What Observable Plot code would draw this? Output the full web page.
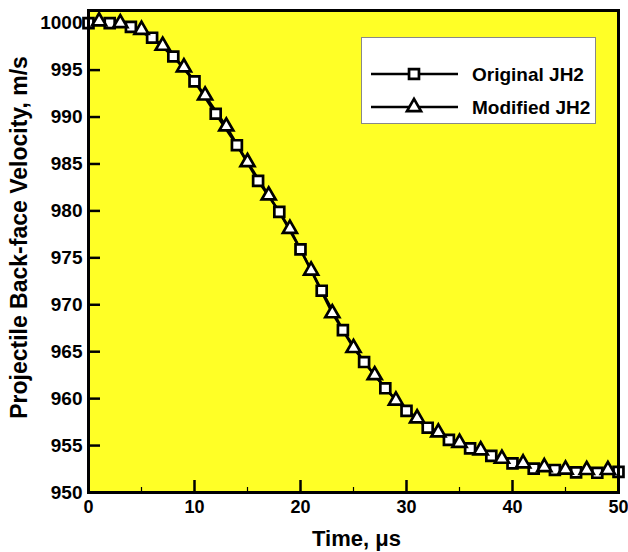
<!DOCTYPE html>
<html>
<head>
<meta charset="utf-8">
<script src="https://cdn.jsdelivr.net/npm/d3@7"></script>
<script src="https://cdn.jsdelivr.net/npm/@observablehq/plot@0.6"></script>
<style>
  html, body { margin: 0; padding: 0; background: white; }
  #wrap { position: relative; width: 628px; height: 552px; }
  #legend { position: absolute; left: 361px; top: 37px; width: 235px; height: 87px;
            background: white; border: 1px solid #888; box-sizing: border-box; }
</style>
</head>
<body>
<div id="wrap"><div id="chart"></div><div id="legend"></div></div>
<script>
// Time (µs) and velocity (m/s)
const originalTime = [0, 2, 4, 6, 8, 10, 12, 14, 16, 18, 20, 22, 24, 26, 28, 30, 32, 34, 36, 38, 40, 42, 44, 46, 48, 50];
const originalJH2 = [1000.0, 1000.0, 999.6, 998.45, 996.45, 993.8, 990.35, 987.0, 983.2, 979.9, 975.9, 971.5, 967.3, 963.9, 961.1, 958.7, 956.9, 955.6, 954.7, 953.9, 953.1, 952.55, 952.4, 952.15, 952.1, 952.2];
const modifiedTime = [1, 3, 5, 7, 9, 11, 13, 15, 17, 19, 21, 23, 25, 27, 29, 31, 33, 35, 37, 39, 41, 43, 45, 47, 49];
const modifiedJH2 = [1000.2, 1000.0, 999.3, 997.6, 995.3, 992.3, 989.0, 985.2, 981.65, 978.1, 973.65, 969.1, 965.4, 962.5, 959.8, 957.9, 956.4, 955.3, 954.5, 953.6, 953.1, 952.7, 952.45, 952.4, 952.4];
const seriesNames = ["Original JH2", "Modified JH2"];
const xTicks = [0, 10, 20, 30, 40, 50];
const xMinorTicks = [5, 15, 25, 35, 45];
const yTicks = [950, 955, 960, 965, 970, 975, 980, 985, 990, 995, 1000];
const xTitle = "Time, \u03bcs";
const yTitle = "Projectile Back-face Velocity, m/s";

const orig = originalTime.map((t, i) => ({t, v: originalJH2[i]}));
const mod = modifiedTime.map((t, i) => ({t, v: modifiedJH2[i]}));

const font = "'Liberation Sans', Arial, sans-serif";
const chart = Plot.plot({
  width: 628, height: 552,
  marginLeft: 88, marginRight: 10, marginTop: 10, marginBottom: 60,
  x: {domain: [0, 50]},
  y: {domain: [950, 1001.35]},
  style: {fontFamily: font, fontWeight: "bold", background: "white", color: "black"},
  marks: [
    Plot.frame({fill: "#ffff26", stroke: null}),
    Plot.axisX(xMinorTicks, {tickSize: -5, tickFormat: () => "", strokeWidth: 1.2, label: null}),
    Plot.axisX(xTicks, {tickSize: -12, tickPadding: 20, strokeWidth: 2.5, fontSize: 18, tickFormat: d => String(d), label: null}),
    Plot.axisY(yTicks, {tickSize: -12, tickPadding: 18, strokeWidth: 2.5, fontSize: 19, tickFormat: d => String(d), label: null}),
    Plot.line(orig, {x: "t", y: "v", stroke: "black", strokeWidth: 2.5}),
    Plot.line(mod, {x: "t", y: "v", stroke: "black", strokeWidth: 2.5}),
    Plot.dot(orig, {x: "t", y: "v", symbol: "square", r: 5.6, fill: "white", stroke: "black", strokeWidth: 2.7}),
    Plot.dot(mod, {x: "t", y: "v", symbol: "triangle", r: 5.2, fill: "white", stroke: "black", strokeWidth: 2.7}),
    Plot.frame({stroke: "black", strokeWidth: 3}),
    Plot.text([xTitle], {text: d => d, frameAnchor: "bottom", textAnchor: "middle", lineAnchor: "middle", dx: 3, dy: 46, fontSize: 22, fontWeight: "bold"}),
    Plot.text([yTitle], {text: d => d, frameAnchor: "left", textAnchor: "middle", lineAnchor: "middle", dx: -69, dy: -14, rotate: -90, fontSize: 23, fontWeight: "bold"})
  ]
});
document.getElementById("chart").appendChild(chart);

// Legend
const leg = d3.select("#legend").append("svg").attr("width", 235).attr("height", 87)
  .style("font-family", font).style("font-weight", "bold");
const symbols = [d3.symbolSquare, d3.symbolTriangle];
const sizes = [Math.PI * 5.6 * 5.6, Math.PI * 5.2 * 5.2];
seriesNames.forEach((name, i) => {
  const y = 36 + i * 33;
  const g = leg.append("g").attr("transform", `translate(0,${y})`);
  g.append("line").attr("x1", 9).attr("x2", 96).attr("y1", 0).attr("y2", 0)
    .attr("stroke", "black").attr("stroke-width", 2.5);
  g.append("path").attr("d", d3.symbol(symbols[i], sizes[i])())
    .attr("transform", "translate(52,0)")
    .attr("fill", "white").attr("stroke", "black").attr("stroke-width", 2.7);
  g.append("text").attr("x", 110).attr("y", 0).attr("dy", "0.35em")
    .attr("font-size", 19).text(name);
});
</script>
</body>
</html>
